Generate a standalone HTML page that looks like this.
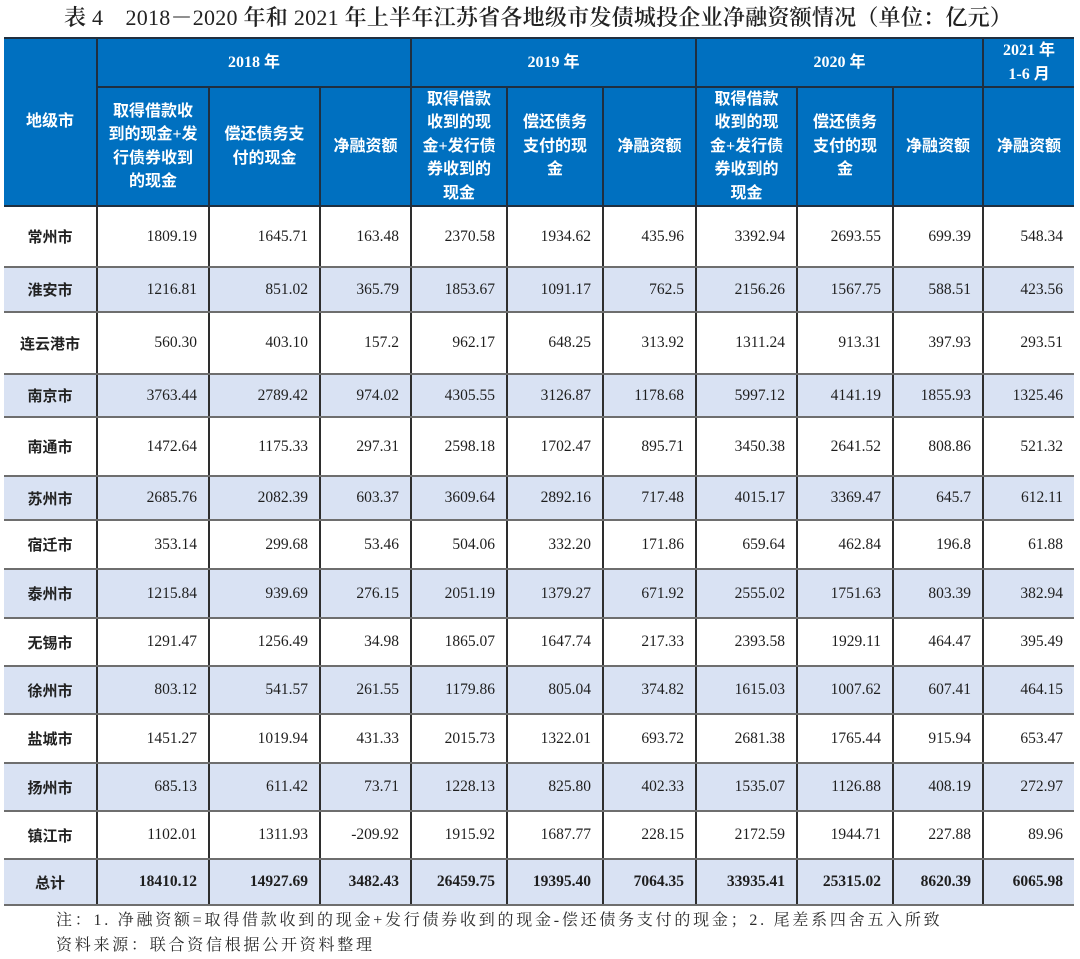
<!DOCTYPE html>
<html>
<head>
<meta charset="utf-8">
<style>
  html, body { margin: 0; padding: 0; background: #ffffff; }
  body { width: 1080px; height: 959px; position: relative; overflow: hidden; }
  .title {
    position: absolute; left: 64px; top: 4px; white-space: nowrap;
    font-family: "Liberation Serif", "Noto Serif CJK SC", serif;
    font-size: 22px; line-height: 28px; color: #222; font-weight: 600;
    letter-spacing: 0.25px;
  }
  .title .d { font-weight: normal; }
  table {
    position: absolute; left: 4px; top: 37px;
    border-collapse: collapse; table-layout: fixed; width: 1070px;
  }
  th {
    background: #0070C0; color: #fff; padding: 0;
    font-family: "Liberation Serif", "Noto Sans CJK SC", sans-serif;
    font-weight: bold; font-size: 16px; line-height: 23.4px;
    text-align: center; vertical-align: middle;
    border: 2px solid #1f2f40;
  }
  td {
    padding: 0 11px 0 0; text-align: right; vertical-align: middle;
    font-family: "Liberation Serif", "Noto Serif CJK SC", serif;
    font-size: 15.5px; color: #1e1e1e;
    border-left: 2px solid #2e2e2e; border-right: 2px solid #2e2e2e;
    border-top: 2px solid #6e6e6e; border-bottom: 2px solid #6e6e6e;
    white-space: nowrap;
  }
  td.c {
    text-align: center; padding: 0;
    font-family: "Liberation Sans", "Noto Sans CJK SC", sans-serif;
    font-weight: bold; font-size: 15px; color: #222;
    border-left: none;
  }
  th.first { border-left: none; }
  th.last, td.last { border-right: none; }
  tr.s td { background: #D9E2F3; }
  tr.tot td { font-weight: bold; }
  .note {
    position: absolute; left: 56px; top: 908px; white-space: nowrap;
    font-family: "Liberation Serif", "Noto Serif CJK SC", serif;
    font-size: 16px; line-height: 25px; color: #2a2a2a; letter-spacing: 2.75px;
  }
</style>
</head>
<body>
<div class="title">表 <span class="d">4</span>　<span class="d">2018</span>－<span class="d">2020</span> 年和 <span class="d">2021</span> 年上半年江苏省各地级市发债城投企业净融资额情况（单位：亿元）</div>

<table>
  <colgroup>
    <col style="width:93px"><col style="width:112px"><col style="width:111px"><col style="width:91px">
    <col style="width:96px"><col style="width:96px"><col style="width:93px">
    <col style="width:101px"><col style="width:96px"><col style="width:90px"><col style="width:91px">
  </colgroup>
  <tr style="height:49px">
    <th class="first" rowspan="2">地级市</th>
    <th colspan="3">2018 年</th>
    <th colspan="3">2019 年</th>
    <th colspan="3">2020 年</th>
    <th class="last">2021 年<br>1-6 月</th>
  </tr>
  <tr style="height:118px">
    <th>取得借款收<br>到的现金+发<br>行债券收到<br>的现金</th>
    <th>偿还债务支<br>付的现金</th>
    <th>净融资额</th>
    <th>取得借款<br>收到的现<br>金+发行债<br>券收到的<br>现金</th>
    <th>偿还债务<br>支付的现<br>金</th>
    <th>净融资额</th>
    <th>取得借款<br>收到的现<br>金+发行债<br>券收到的<br>现金</th>
    <th>偿还债务<br>支付的现<br>金</th>
    <th>净融资额</th>
    <th class="last">净融资额</th>
  </tr>
  <tr style="height:61px"><td class="c">常州市</td><td>1809.19</td><td>1645.71</td><td>163.48</td><td>2370.58</td><td>1934.62</td><td>435.96</td><td>3392.94</td><td>2693.55</td><td>699.39</td><td class="last">548.34</td></tr>
  <tr class="s" style="height:45px"><td class="c">淮安市</td><td>1216.81</td><td>851.02</td><td>365.79</td><td>1853.67</td><td>1091.17</td><td>762.5</td><td>2156.26</td><td>1567.75</td><td>588.51</td><td class="last">423.56</td></tr>
  <tr style="height:62px"><td class="c">连云港市</td><td>560.30</td><td>403.10</td><td>157.2</td><td>962.17</td><td>648.25</td><td>313.92</td><td>1311.24</td><td>913.31</td><td>397.93</td><td class="last">293.51</td></tr>
  <tr class="s" style="height:43px"><td class="c">南京市</td><td>3763.44</td><td>2789.42</td><td>974.02</td><td>4305.55</td><td>3126.87</td><td>1178.68</td><td>5997.12</td><td>4141.19</td><td>1855.93</td><td class="last">1325.46</td></tr>
  <tr style="height:59px"><td class="c">南通市</td><td>1472.64</td><td>1175.33</td><td>297.31</td><td>2598.18</td><td>1702.47</td><td>895.71</td><td>3450.38</td><td>2641.52</td><td>808.86</td><td class="last">521.32</td></tr>
  <tr class="s" style="height:44px"><td class="c">苏州市</td><td>2685.76</td><td>2082.39</td><td>603.37</td><td>3609.64</td><td>2892.16</td><td>717.48</td><td>4015.17</td><td>3369.47</td><td>645.7</td><td class="last">612.11</td></tr>
  <tr style="height:49px"><td class="c">宿迁市</td><td>353.14</td><td>299.68</td><td>53.46</td><td>504.06</td><td>332.20</td><td>171.86</td><td>659.64</td><td>462.84</td><td>196.8</td><td class="last">61.88</td></tr>
  <tr class="s" style="height:49px"><td class="c">泰州市</td><td>1215.84</td><td>939.69</td><td>276.15</td><td>2051.19</td><td>1379.27</td><td>671.92</td><td>2555.02</td><td>1751.63</td><td>803.39</td><td class="last">382.94</td></tr>
  <tr style="height:48px"><td class="c">无锡市</td><td>1291.47</td><td>1256.49</td><td>34.98</td><td>1865.07</td><td>1647.74</td><td>217.33</td><td>2393.58</td><td>1929.11</td><td>464.47</td><td class="last">395.49</td></tr>
  <tr class="s" style="height:48px"><td class="c">徐州市</td><td>803.12</td><td>541.57</td><td>261.55</td><td>1179.86</td><td>805.04</td><td>374.82</td><td>1615.03</td><td>1007.62</td><td>607.41</td><td class="last">464.15</td></tr>
  <tr style="height:49px"><td class="c">盐城市</td><td>1451.27</td><td>1019.94</td><td>431.33</td><td>2015.73</td><td>1322.01</td><td>693.72</td><td>2681.38</td><td>1765.44</td><td>915.94</td><td class="last">653.47</td></tr>
  <tr class="s" style="height:48px"><td class="c">扬州市</td><td>685.13</td><td>611.42</td><td>73.71</td><td>1228.13</td><td>825.80</td><td>402.33</td><td>1535.07</td><td>1126.88</td><td>408.19</td><td class="last">272.97</td></tr>
  <tr style="height:48px"><td class="c">镇江市</td><td>1102.01</td><td>1311.93</td><td>-209.92</td><td>1915.92</td><td>1687.77</td><td>228.15</td><td>2172.59</td><td>1944.71</td><td>227.88</td><td class="last">89.96</td></tr>
  <tr class="s tot" style="height:46px"><td class="c">总计</td><td>18410.12</td><td>14927.69</td><td>3482.43</td><td>26459.75</td><td>19395.40</td><td>7064.35</td><td>33935.41</td><td>25315.02</td><td>8620.39</td><td class="last">6065.98</td></tr>
</table>

<div class="note">注：1. 净融资额=取得借款收到的现金+发行债券收到的现金-偿还债务支付的现金；2. 尾差系四舍五入所致<br>资料来源：联合资信根据公开资料整理</div>
</body>
</html>
